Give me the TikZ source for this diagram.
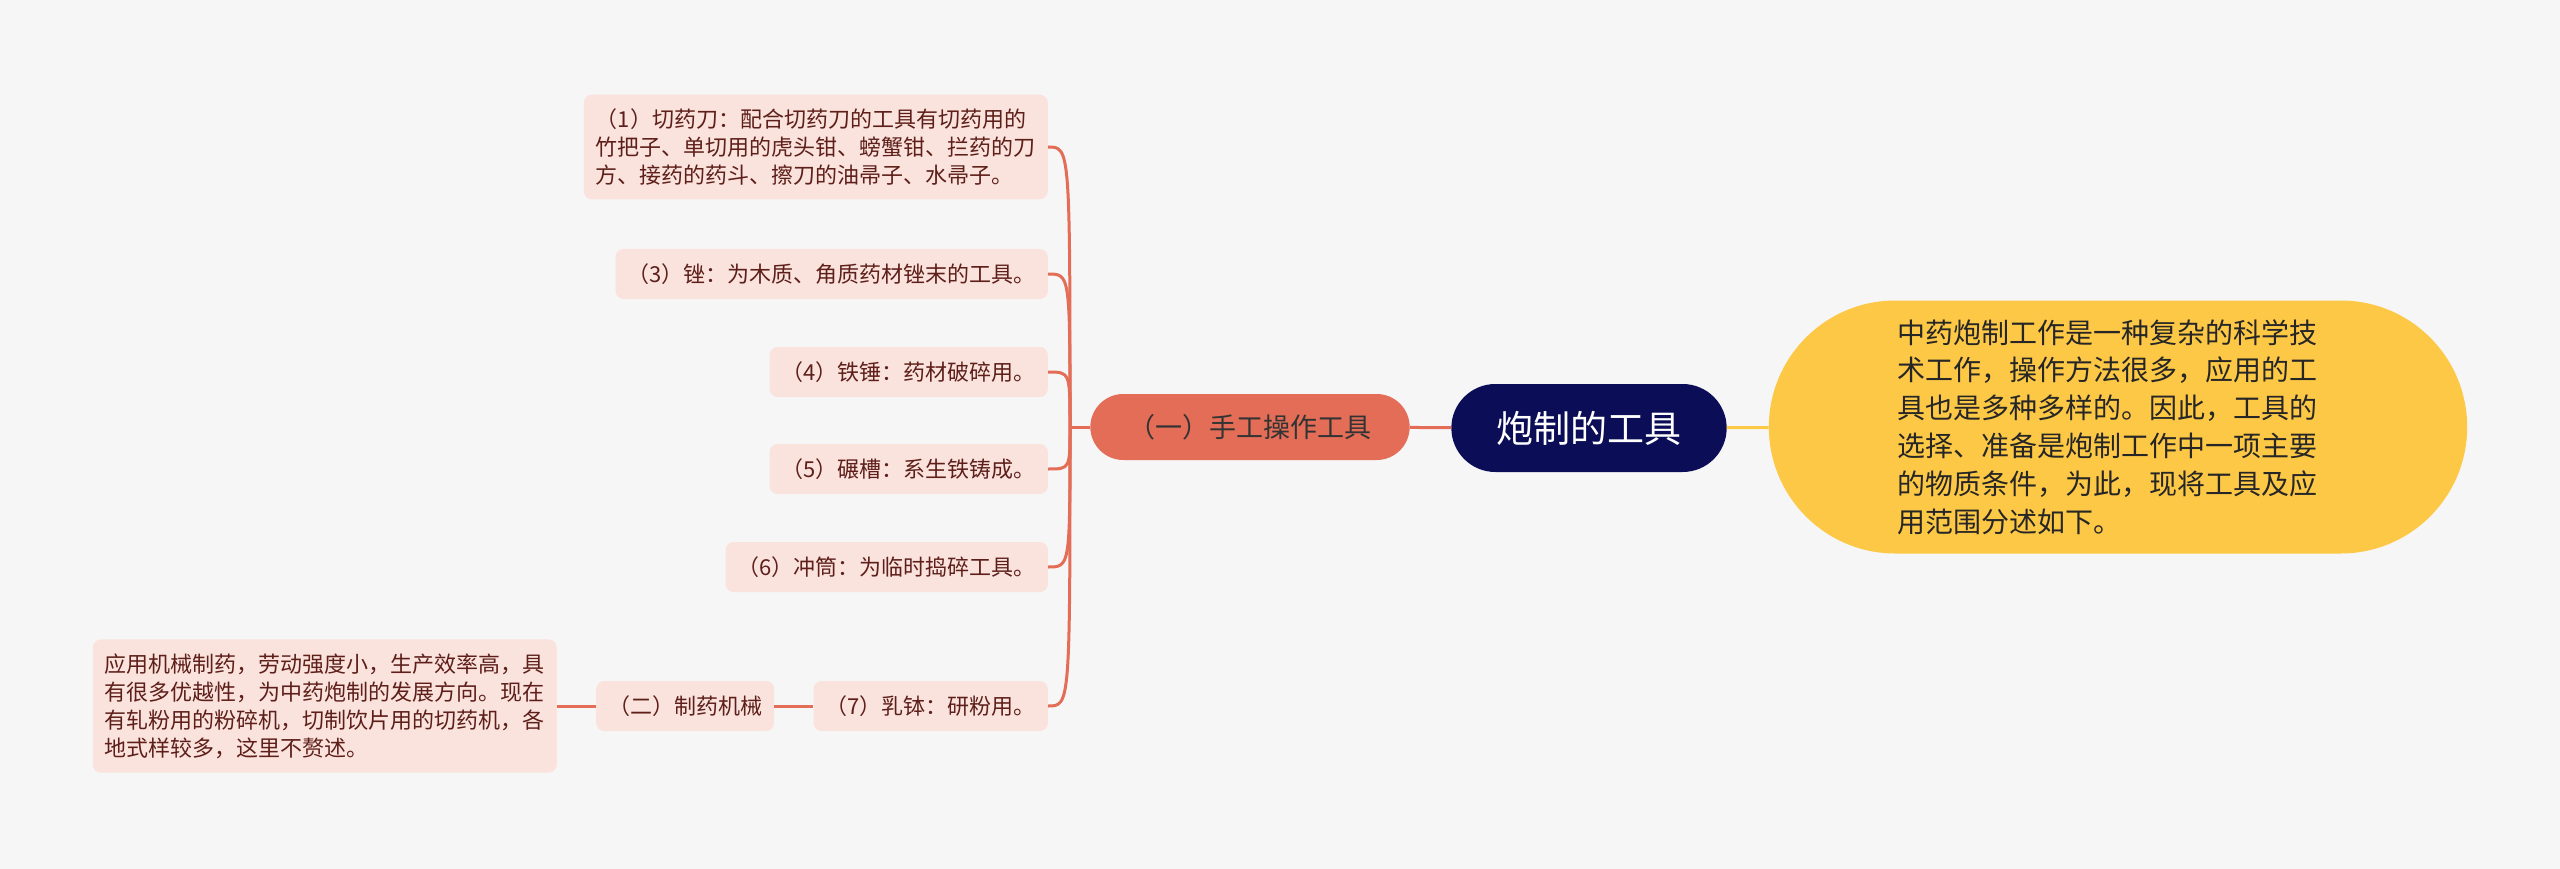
\documentclass[tikz,border=0pt]{standalone}
\usepackage{fontspec}
\setmainfont{Noto Sans CJK SC}
\usetikzlibrary{positioning, shapes.misc}
\definecolor{paper}{HTML}{F6F6F6}
\definecolor{navy}{HTML}{0B0E57}
\definecolor{coral}{HTML}{E36D57}
\definecolor{amber}{HTML}{FDC845}
\definecolor{blush}{HTML}{FBE3DD}
\definecolor{maroon}{HTML}{5E1F1A}
\begin{document}
\begin{tikzpicture}[x=1pt, y=-1pt,
  leaf/.style={fill=blush, text=maroon, rounded corners=8pt, align=left,
    font=\fontsize{22}{28}\selectfont, inner xsep=12pt, inner ysep=14pt},
  line/.style={minimum height=50pt},
  link/.style={draw=coral, line width=3pt}]
  \useasboundingbox[fill=paper] (0,0) rectangle (2560,869);
  % centre and the two first-level branches
  \node[rounded rectangle, fill=navy, text=white, minimum width=282pt, minimum height=88pt,
    font=\fontsize{37}{40}\selectfont] (root) at (1589,428) {炮制的工具};
  \node[rounded rectangle, fill=amber, text=black!85, minimum width=705pt, minimum height=253pt,
    align=left, text width=442pt, font=\fontsize{28}{37.8}\selectfont] (note) at (2118,427)
    {中药炮制工作是一种复杂的科学技\\术工作，操作方法很多，应用的工\\具也是多种多样的。因此，工具的\\选择、准备是炮制工作中一项主要\\的物质条件，为此，现将工具及应\\用范围分述如下。};
  \node[rounded rectangle, fill=coral, text=black!80, minimum width=326pt, minimum height=66pt,
    font=\fontsize{27}{30}\selectfont] (hand) at (1250,427) {（一）手工操作工具};
  \draw[link] (root) -- (hand);
  \draw[draw=amber, line width=3pt] (root) -- (note);
  \coordinate (hub) at (1070,427);
  \draw[link] (hand.west) -- (hub);
  % hand tools
  \node[leaf, anchor=east] (s1) at (1048,147) {（1）切药刀：配合切药刀的工具有切药用的\\竹把子、单切用的虎头钳、螃蟹钳、拦药的刀\\方、接药的药斗、擦刀的油帚子、水帚子。};
  \foreach \y/\id/\txt in {274/s3/{（3）锉：为木质、角质药材锉末的工具。},
      372/s4/{（4）铁锤：药材破碎用。},
      469/s5/{（5）碾槽：系生铁铸成。},
      567/s6/{（6）冲筒：为临时捣碎工具。},
      706/s7/{（7）乳钵：研粉用。}}
    \node[leaf, line, anchor=east] (\id) at (1048,\y) {\txt};
  \foreach \id in {s1,s3,s4,s5,s6,s7}
    \draw[link] (hub) .. controls (hub |- \id.east) .. (\id.east);
  % machines
  \node[leaf, line, left=39pt of s7] (mach) {（二）制药机械};
  \node[leaf, left=39pt of mach] (mnote) {应用机械制药，劳动强度小，生产效率高，具\\有很多优越性，为中药炮制的发展方向。现在\\有轧粉用的粉碎机，切制饮片用的切药机，各\\地式样较多，这里不赘述。};
  \draw[link] (s7) -- (mach);
  \draw[link] (mach) -- (mnote);
\end{tikzpicture}
\end{document}
